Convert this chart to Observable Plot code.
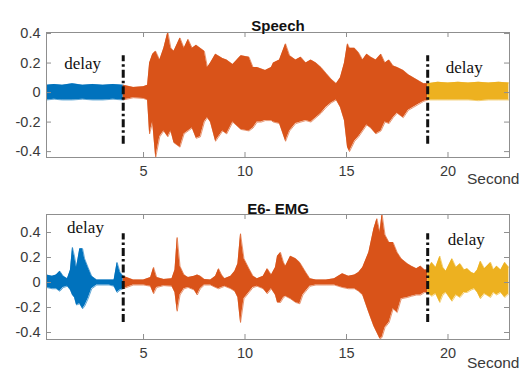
<!DOCTYPE html>
<html>
<head>
<meta charset="utf-8">
<script src="https://cdn.jsdelivr.net/npm/d3@7"></script>
<script src="https://cdn.jsdelivr.net/npm/@observablehq/plot@0.6"></script>
<style>
  html, body { margin: 0; padding: 0; background: #fff; }
  #chart { width: 524px; height: 374px; overflow: hidden; }
  #chart svg { display: block; overflow: visible; }
</style>
</head>
<body>
<div id="chart"></div>
<script>
// ---------- data (envelope of each waveform) ----------
const panelTitles = ["Speech", "E6- EMG"];
const xTicks = [5, 10, 15, 20];
const yTicks = [-0.4, -0.2, 0, 0.2, 0.4];
const delayMarks = [4, 19];
const segmentNames = ["before", "during", "after"];
const segmentColors = ["#0072BD", "#D95319", "#EDB120"];
const delayLabel = "delay";
const xLabel = "Second";

// Speech envelope
const speechTime  = [0.22,0.6,1.0,1.5,2.0,2.5,3.0,3.5,4.0, 4.5,5.0,5.2,5.3,5.45,5.6,5.8,6.0,6.2,6.35,6.5,6.8,7.0,7.2,7.4,7.6,7.8,8.0,8.15,8.3,8.55,8.9,9.1,9.4,9.8,10.2,10.4,10.6,10.8,11.0,11.3,11.4,11.7,12.0,12.2,12.5,12.75,13.0,13.25,13.5,13.75,14.0,14.25,14.5,14.7,14.9,15.05,15.15,15.4,15.6,15.8,16.0,16.2,16.45,16.7,16.9,17.1,17.3,17.5,17.8,18.05,18.3,18.55,18.8,19.0, 19.5,20.0,20.5,21.0,21.5,22.0,22.5,23.0];
const speechUpper = [0.05,0.055,0.05,0.06,0.05,0.055,0.05,0.055,0.05, 0.035,0.04,0.05,0.20,0.26,0.28,0.22,0.30,0.41,0.30,0.28,0.37,0.30,0.36,0.30,0.32,0.30,0.28,0.17,0.20,0.26,0.23,0.22,0.19,0.25,0.24,0.17,0.17,0.16,0.15,0.17,0.20,0.22,0.33,0.25,0.22,0.24,0.20,0.22,0.20,0.17,0.13,0.09,0.06,0.10,0.20,0.33,0.30,0.30,0.27,0.22,0.26,0.24,0.22,0.26,0.20,0.22,0.18,0.17,0.15,0.12,0.10,0.08,0.06,0.06, 0.07,0.065,0.07,0.065,0.07,0.065,0.07,0.065];
const speechLower = [-0.05,-0.045,-0.05,-0.05,-0.045,-0.05,-0.05,-0.045,-0.05, -0.035,-0.04,-0.05,-0.28,-0.20,-0.44,-0.30,-0.26,-0.30,-0.26,-0.34,-0.37,-0.28,-0.26,-0.24,-0.31,-0.30,-0.20,-0.17,-0.20,-0.33,-0.26,-0.28,-0.20,-0.25,-0.26,-0.24,-0.20,-0.20,-0.19,-0.19,-0.20,-0.21,-0.33,-0.26,-0.21,-0.20,-0.19,-0.20,-0.17,-0.14,-0.10,-0.07,-0.05,-0.10,-0.19,-0.37,-0.40,-0.33,-0.30,-0.26,-0.22,-0.24,-0.28,-0.26,-0.20,-0.21,-0.17,-0.14,-0.17,-0.12,-0.10,-0.08,-0.06,-0.05, -0.05,-0.05,-0.05,-0.05,-0.055,-0.05,-0.05,-0.05];

// EMG envelope
const emgTime  = [0.22,0.5,0.7,0.88,1.05,1.25,1.4,1.5,1.6,1.7,1.86,2.0,2.1,2.27,2.45,2.7,3.0,3.3,3.55,3.7,3.85,4.0, 4.5,5.0,5.35,5.5,5.65,6.0,6.4,6.55,6.66,6.8,7.0,7.2,7.5,7.65,7.8,8.0,8.3,8.55,8.7,8.85,9.0,9.3,9.5,9.65,9.78,9.95,10.2,10.4,10.6,10.9,11.1,11.3,11.5,11.6,11.75,11.9,12.0,12.24,12.5,12.7,12.85,13.0,13.2,13.5,14.0,14.4,14.8,15.1,15.4,15.6,15.8,16.1,16.35,16.5,16.65,16.75,16.9,17.1,17.3,17.5,17.7,18.0,18.2,18.45,18.65,18.85,19.0, 19.2,19.4,19.6,19.75,19.9,20.2,20.4,20.6,20.8,20.95,21.15,21.3,21.45,21.6,21.8,22.1,22.25,22.4,22.6,22.8,23.0];
const emgUpper = [0.06,0.05,0.06,0.09,0.05,0.03,0.10,0.28,0.21,0.12,0.27,0.27,0.19,0.12,0.05,0.02,0.02,0.02,0.02,0.16,0.08,0.05, 0.02,0.02,0.04,0.12,0.04,0.025,0.03,0.10,0.36,0.13,0.06,0.04,0.05,0.06,0.05,0.025,0.02,0.05,0.11,0.06,0.03,0.05,0.09,0.15,0.39,0.19,0.11,0.05,0.03,0.05,0.11,0.06,0.12,0.21,0.24,0.16,0.13,0.21,0.19,0.16,0.12,0.08,0.03,0.02,0.02,0.03,0.07,0.05,0.06,0.08,0.12,0.24,0.43,0.51,0.40,0.55,0.38,0.32,0.32,0.24,0.19,0.15,0.13,0.11,0.13,0.10,0.10, 0.16,0.12,0.21,0.12,0.09,0.19,0.12,0.15,0.10,0.11,0.08,0.07,0.10,0.17,0.11,0.16,0.10,0.13,0.10,0.16,0.12];
const emgLower = [-0.04,-0.05,-0.05,-0.07,-0.04,-0.03,-0.06,-0.10,-0.12,-0.18,-0.17,-0.21,-0.19,-0.13,-0.05,-0.02,-0.02,-0.02,-0.03,-0.08,-0.06,-0.05, -0.02,-0.02,-0.03,-0.09,-0.04,-0.025,-0.03,-0.08,-0.23,-0.10,-0.05,-0.04,-0.06,-0.10,-0.05,-0.02,-0.02,-0.04,-0.05,-0.04,-0.03,-0.05,-0.07,-0.12,-0.32,-0.13,-0.08,-0.04,-0.03,-0.05,-0.09,-0.05,-0.10,-0.16,-0.16,-0.12,-0.11,-0.13,-0.16,-0.17,-0.10,-0.07,-0.03,-0.02,-0.02,-0.02,-0.04,-0.05,-0.05,-0.07,-0.10,-0.24,-0.35,-0.40,-0.45,-0.44,-0.36,-0.32,-0.21,-0.24,-0.13,-0.12,-0.11,-0.10,-0.10,-0.08,-0.08, -0.11,-0.09,-0.16,-0.10,-0.08,-0.15,-0.10,-0.12,-0.08,-0.08,-0.06,-0.05,-0.08,-0.13,-0.09,-0.12,-0.08,-0.10,-0.08,-0.12,-0.09];

// dash-dot marker extents and label positions (data units)
const speechDash = {y1: -0.35, y2: 0.25};
const emgDash = {y1: -0.32, y2: 0.39};
const speechDelayX = [2.0, 20.8], speechDelayY = [0.20, 0.17];
const emgDelayX = [2.14, 20.9], emgDelayY = [0.44, 0.34];

// ---------- helpers ----------
function rows(time, upper, lower) {
  return time.map((t, i) => ({t, hi: upper[i], lo: lower[i]}));
}
function segments(data) {
  const [a, b] = delayMarks;
  return [
    data.filter(d => d.t <= a),
    data.filter(d => d.t >= a && d.t <= b),
    data.filter(d => d.t >= b)
  ];
}

const axisColor = "#8f8f8f";
const labelColor = "#3a3a3a";
const sans = "'Liberation Sans', Arial, sans-serif";
const serif = "'Liberation Serif', 'Times New Roman', serif";

function panel({title, data, yDomain, dash, delayX, delayY, height, margins, titleDy, secondDy}) {
  const plotH = height - margins.top - margins.bottom;
  const plotW = 524 - margins.left - margins.right;
  const segs = segments(data);
  const delayRows = delayX.map((x, i) => ({x, y: delayY[i]}));
  return Plot.plot({
    width: 524,
    height,
    marginLeft: margins.left,
    marginRight: margins.right,
    marginTop: margins.top,
    marginBottom: margins.bottom,
    style: {background: "white", fontFamily: sans, overflow: "visible"},
    x: {domain: [0.22, 23.03]},
    y: {domain: yDomain},
    marks: [
      ...segs.map((s, i) => Plot.areaY(s, {x: "t", y1: "lo", y2: "hi", fill: segmentColors[i], clip: true})),
      ...segs.map((s, i) => Plot.line(s, {x: "t", y: "hi", stroke: segmentColors[i], strokeWidth: 1, strokeOpacity: 0.6, clip: true})),
      ...segs.map((s, i) => Plot.line(s, {x: "t", y: "lo", stroke: segmentColors[i], strokeWidth: 1, strokeOpacity: 0.6, clip: true})),
      Plot.ruleX(delayMarks, {x: d => d, y1: dash.y1, y2: dash.y2, stroke: "#111", strokeWidth: 3, strokeDasharray: "8,3,2.5,3"}),
      Plot.text(delayRows, {x: "x", y: "y", text: () => delayLabel, fontFamily: serif, fontSize: 17, fill: "#111", letterSpacing: 1}),
      Plot.frame({stroke: axisColor, strokeWidth: 1}),
      // inward ticks on all four sides
      Plot.tickX(xTicks, {x: d => d, insetTop: plotH - 5, stroke: axisColor}),
      Plot.tickX(xTicks, {x: d => d, insetBottom: plotH - 5, stroke: axisColor}),
      Plot.tickY(yTicks, {y: d => d, insetRight: plotW - 5, stroke: axisColor}),
      Plot.tickY(yTicks, {y: d => d, insetLeft: plotW - 5, stroke: axisColor}),
      Plot.axisX(xTicks, {tickSize: 0, tickPadding: 8, fontSize: 14.5, fill: labelColor, label: null, letterSpacing: 0.5, tickFormat: d => String(d)}),
      Plot.axisY(yTicks, {tickSize: 0, tickPadding: 6, fontSize: 14.5, fill: labelColor, label: null, letterSpacing: 0.3, tickFormat: d => d === 0 ? "0" : d.toFixed(1)}),
      Plot.text([title], {frameAnchor: "top", dy: titleDy, text: d => d, fontWeight: "bold", fontSize: 15, fill: "#111"}),
      Plot.text([xLabel], {frameAnchor: "bottom-right", dx: 10, dy: secondDy, text: d => d, textAnchor: "end", fontSize: 15.5, fill: labelColor})
    ]
  });
}

const chart = document.getElementById("chart");
chart.append(panel({
  title: panelTitles[0],
  data: rows(speechTime, speechUpper, speechLower),
  yDomain: [-0.44, 0.407],
  dash: speechDash,
  delayX: speechDelayX, delayY: speechDelayY,
  height: 190,
  margins: {top: 32, bottom: 33, left: 46, right: 15},
  titleDy: -12,
  secondDy: 26
}));
chart.append(panel({
  title: panelTitles[1],
  data: rows(emgTime, emgUpper, emgLower),
  yDomain: [-0.456, 0.544],
  dash: emgDash,
  delayX: emgDelayX, delayY: emgDelayY,
  height: 184,
  margins: {top: 24, bottom: 35, left: 46, right: 15},
  titleDy: -11,
  secondDy: 28
}));
</script>
</body>
</html>
